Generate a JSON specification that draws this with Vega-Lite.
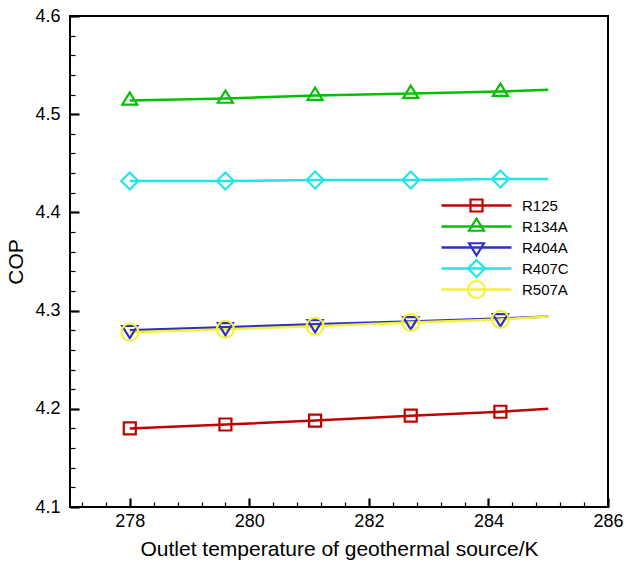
{
  "$schema": "https://vega.github.io/schema/vega-lite/v6.json",
  "width": 538,
  "height": 491,
  "autosize": {"type": "none"},
  "padding": {"left": 70, "top": 16, "right": 16, "bottom": 57},
  "background": "white",
  "config": {
    "font": "Liberation Sans",
    "view": {"stroke": "black", "strokeWidth": 2},
    "axis": {
      "grid": false,
      "domain": false,
      "labelColor": "black",
      "titleColor": "black",
      "labelFont": "Liberation Sans",
      "titleFont": "Liberation Sans",
      "labelFontSize": 18,
      "titleFontSize": 21,
      "titleFontWeight": "normal",
      "labelFlush": false,
      "labelOverlap": false
    }
  },
  "data": {
    "values": [
      {"ref": "R125", "T": 278.0, "cop": 4.180, "m": true},
      {"ref": "R125", "T": 279.6, "cop": 4.184, "m": true},
      {"ref": "R125", "T": 281.1, "cop": 4.188, "m": true},
      {"ref": "R125", "T": 282.7, "cop": 4.193, "m": true},
      {"ref": "R125", "T": 284.2, "cop": 4.197, "m": true},
      {"ref": "R125", "T": 285.0, "cop": 4.200, "m": false},
      {"ref": "R134A", "T": 278.0, "cop": 4.514, "m": true},
      {"ref": "R134A", "T": 279.6, "cop": 4.516, "m": true},
      {"ref": "R134A", "T": 281.1, "cop": 4.519, "m": true},
      {"ref": "R134A", "T": 282.7, "cop": 4.521, "m": true},
      {"ref": "R134A", "T": 284.2, "cop": 4.523, "m": true},
      {"ref": "R134A", "T": 285.0, "cop": 4.525, "m": false},
      {"ref": "R404A", "T": 278.0, "cop": 4.280, "m": true},
      {"ref": "R404A", "T": 279.6, "cop": 4.283, "m": true},
      {"ref": "R404A", "T": 281.1, "cop": 4.286, "m": true},
      {"ref": "R404A", "T": 282.7, "cop": 4.289, "m": true},
      {"ref": "R404A", "T": 284.2, "cop": 4.292, "m": true},
      {"ref": "R404A", "T": 285.0, "cop": 4.294, "m": false},
      {"ref": "R407C", "T": 278.0, "cop": 4.432, "m": true},
      {"ref": "R407C", "T": 279.6, "cop": 4.432, "m": true},
      {"ref": "R407C", "T": 281.1, "cop": 4.433, "m": true},
      {"ref": "R407C", "T": 282.7, "cop": 4.433, "m": true},
      {"ref": "R407C", "T": 284.2, "cop": 4.434, "m": true},
      {"ref": "R407C", "T": 285.0, "cop": 4.434, "m": false},
      {"ref": "R507A", "T": 278.0, "cop": 4.278, "m": true},
      {"ref": "R507A", "T": 279.6, "cop": 4.281, "m": true},
      {"ref": "R507A", "T": 281.1, "cop": 4.284, "m": true},
      {"ref": "R507A", "T": 282.7, "cop": 4.288, "m": true},
      {"ref": "R507A", "T": 284.2, "cop": 4.291, "m": true},
      {"ref": "R507A", "T": 285.0, "cop": 4.294, "m": false}
    ]
  },
  "resolve": {
    "axis": {"x": "independent", "y": "independent"},
    "legend": {"color": "independent", "shape": "independent"}
  },
  "layer": [
    {
      "mark": {"type": "line", "strokeWidth": 2.5},
      "encoding": {
        "x": {
          "field": "T",
          "type": "quantitative",
          "scale": {"domain": [277, 286], "nice": false, "zero": false},
          "axis": {
            "orient": "bottom",
            "offset": -9,
            "zindex": 1,
            "title": "Outlet temperature of geothermal source/K",
            "values": [278, 280, 282, 284, 286],
            "format": "d",
            "ticks": true,
            "tickColor": "black",
            "tickOpacity": 1,
            "tickSize": 9,
            "tickWidth": 2.2,
            "labelPadding": 5,
            "titlePadding": 8
          }
        },
        "y": {
          "field": "cop",
          "type": "quantitative",
          "scale": {"domain": [4.1, 4.6], "nice": false, "zero": false},
          "axis": {
            "orient": "left",
            "offset": -9,
            "zindex": 1,
            "title": "COP",
            "values": [4.1, 4.2, 4.3, 4.4, 4.5, 4.6],
            "format": ".1f",
            "ticks": true,
            "tickColor": "black",
            "tickOpacity": 1,
            "tickSize": 9,
            "tickWidth": 2.2,
            "labelPadding": 10,
            "titlePadding": 8
          }
        },
        "color": {
          "field": "ref",
          "type": "nominal",
          "scale": {
            "domain": ["R125", "R134A", "R404A", "R407C", "R507A"],
            "range": ["#c00000", "#00c000", "#3030c0", "#22e6e6", "#f2f23a"]
          },
          "legend": {
            "orient": "none",
            "legendX": 399,
            "legendY": 182,
            "title": null,
            "padding": 0,
            "symbolType": "M-7,0H7M0,-1.7M0,1.7",
            "symbolSize": 100,
            "symbolStrokeWidth": 2.5,
            "symbolOpacity": 1,
            "labelFont": "Liberation Sans",
            "labelFontSize": 15,
            "labelOpacity": 0,
            "labelOffset": 38,
            "labelLimit": 200,
            "rowPadding": -8.5
          }
        }
      }
    },
    {
      "transform": [{"filter": "datum.m"}],
      "mark": {"type": "point", "filled": false, "strokeWidth": 2.2, "size": 100, "opacity": 1},
      "encoding": {
        "x": {
          "field": "T",
          "type": "quantitative",
          "axis": {
            "orient": "bottom",
            "offset": -5,
            "zindex": 1,
            "title": null,
            "labels": false,
            "ticks": true,
            "tickColor": "black",
            "tickOpacity": 1,
            "values": [277.2, 277.6, 278.4, 278.8, 279.2, 279.6, 280.4, 280.8, 281.2, 281.6, 282.4, 282.8, 283.2, 283.6, 284.4, 284.8, 285.2, 285.6],
            "tickSize": 5,
            "tickWidth": 1.2
          }
        },
        "y": {
          "field": "cop",
          "type": "quantitative",
          "axis": {
            "orient": "left",
            "offset": -5,
            "zindex": 1,
            "title": null,
            "labels": false,
            "ticks": true,
            "tickColor": "black",
            "tickOpacity": 1,
            "values": [4.12, 4.14, 4.16, 4.18, 4.22, 4.24, 4.26, 4.28, 4.32, 4.34, 4.36, 4.38, 4.42, 4.44, 4.46, 4.48, 4.52, 4.54, 4.56, 4.58],
            "tickSize": 5,
            "tickWidth": 1.2
          }
        },
        "color": {
          "field": "ref",
          "type": "nominal",
          "legend": {
            "orient": "none",
            "legendX": 399,
            "legendY": 182,
            "title": null,
            "padding": 0,
            "symbolSize": 100,
            "symbolStrokeWidth": 2.2,
            "symbolOpacity": 1,
            "labelFont": "Liberation Sans",
            "labelFontSize": 15,
            "labelColor": "black",
            "labelOffset": 38,
            "labelLimit": 200,
            "rowPadding": -8.5
          }
        },
        "shape": {
          "field": "ref",
          "type": "nominal",
          "scale": {
            "domain": ["R125", "R134A", "R404A", "R407C", "R507A"],
            "range": [
              "M-1.2,-1.2H1.2V1.2H-1.2ZM0,-1.7M0,1.7",
              "M0,-1.6L1.5,0.85H-1.5ZM0,-1.7M0,1.7",
              "M0,1.6L1.5,-0.85H-1.5ZM0,-1.7M0,1.7",
              "M0,-1.7L1.7,0L0,1.7L-1.7,0Z",
              "M-1.7,0A1.7,1.7,0,1,0,1.7,0A1.7,1.7,0,1,0,-1.7,0Z"
            ]
          },
          "legend": {
            "orient": "none",
            "legendX": 399,
            "legendY": 182,
            "title": null,
            "padding": 0,
            "symbolSize": 100,
            "symbolStrokeWidth": 2.2,
            "symbolOpacity": 1,
            "labelFont": "Liberation Sans",
            "labelFontSize": 15,
            "labelColor": "black",
            "labelOffset": 38,
            "labelLimit": 200,
            "rowPadding": -8.5
          }
        }
      }
    }
  ]
}
